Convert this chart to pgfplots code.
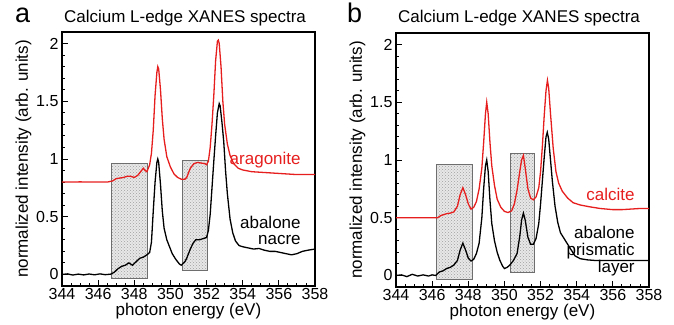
\documentclass[border=0pt]{standalone}
\usepackage{fontspec}
\setmainfont{Liberation Sans}
\usepackage{pgfplots}
\pgfplotsset{compat=1.18}
\usetikzlibrary{patterns}

\definecolor{specred}{RGB}{230,30,30}
\definecolor{boxgray}{RGB}{110,110,110}

\pgfplotsset{xanes/.style={
  scale only axis, width=253pt, height=254pt,
  xmin=344, xmax=358, ymin=-0.1, ymax=2.1,
  xtick={344,346,...,358}, ytick={0,0.5,1,1.5,2},
  minor x tick num=3, minor y tick num=4,
  tick pos=left, tick align=inside,
  major tick length=6pt, minor tick length=3pt,
  axis line style={line width=1.3pt},
  every tick/.style={black, line width=0.9pt},
  /pgf/number format/assume math mode=true,
  tick label style={font=\fontsize{16}{18}\selectfont},
  xticklabel style={yshift=1pt},
  label style={font=\fontsize{17}{20}\selectfont},
  xlabel={photon energy (eV)},
  ylabel={normalized intensity (arb. units)},
  xlabel style={yshift=4pt},
  ylabel style={yshift=-2pt},
  clip=false,
}}
\tikzset{stip/.style={draw=boxgray, line width=0.8pt, fill=gray!18, postaction={pattern=crosshatch dots, pattern color=gray!75}}}

\begin{document}
\begin{tikzpicture}
\path[use as bounding box] (0,0) rectangle (674pt,324pt);

\begin{axis}[xanes, at={(62pt,38pt)}, anchor=south west]
\addplot[stip] coordinates {(346.73,-0.03) (348.75,-0.03) (348.75,0.96) (346.73,0.96)} -- cycle;
\addplot[stip] coordinates {(350.67,0.035) (352.05,0.035) (352.05,0.99) (350.67,0.99)} -- cycle;
% aragonite
\addplot[specred, line width=1.3pt] coordinates {
(344,0.80) (344.5,0.80) (345,0.802) (345.5,0.80) (346,0.801) (346.5,0.80) (346.8,0.81) (347.0,0.83) (347.2,0.835) (347.4,0.84) (347.6,0.85) (347.8,0.85) (348.0,0.84) (348.2,0.86) (348.4,0.90) (348.5,0.92) (348.6,0.90) (348.7,0.89) (348.85,0.95) (348.95,1.05) (349.05,1.25) (349.15,1.55) (349.25,1.75) (349.3,1.80) (349.35,1.78) (349.45,1.60) (349.55,1.35) (349.65,1.17) (349.8,1.02) (350.0,0.93) (350.2,0.87) (350.4,0.84) (350.6,0.825) (350.8,0.825) (350.9,0.84) (351.0,0.88) (351.1,0.92) (351.3,0.96) (351.5,0.97) (351.7,0.965) (351.9,0.96) (352.0,0.95) (352.1,0.98) (352.2,1.10) (352.3,1.30) (352.4,1.55) (352.5,1.85) (352.6,2.02) (352.65,2.03) (352.7,2.00) (352.8,1.80) (352.9,1.50) (353.0,1.30) (353.15,1.13) (353.3,1.03) (353.5,0.96) (353.75,0.92) (354.0,0.905) (354.5,0.89) (355.0,0.885) (355.5,0.88) (356.0,0.875) (356.5,0.87) (357.0,0.865) (357.5,0.865) (358.0,0.865)};
% nacre
\addplot[black, line width=1.3pt] coordinates {
(344,0.0) (344.3,0.005) (344.6,-0.005) (344.9,0.003) (345.2,-0.004) (345.5,0.004) (345.8,-0.003) (346.1,0.005) (346.4,-0.002) (346.7,0.003) (346.9,0.02) (347.1,0.05) (347.3,0.07) (347.5,0.08) (347.7,0.10) (347.9,0.08) (348.1,0.11) (348.3,0.14) (348.5,0.15) (348.7,0.17) (348.85,0.19) (348.95,0.28) (349.05,0.55) (349.15,0.80) (349.25,0.97) (349.3,1.00) (349.35,0.97) (349.45,0.78) (349.55,0.55) (349.65,0.40) (349.8,0.30) (349.95,0.24) (350.1,0.18) (350.3,0.13) (350.5,0.09) (350.6,0.08) (350.7,0.095) (350.8,0.11) (350.9,0.14) (351.0,0.18) (351.1,0.22) (351.25,0.27) (351.4,0.30) (351.6,0.30) (351.8,0.31) (352.0,0.32) (352.1,0.38) (352.2,0.52) (352.3,0.75) (352.4,0.98) (352.5,1.20) (352.6,1.40) (352.7,1.48) (352.75,1.46) (352.85,1.32) (352.95,1.15) (353.05,0.90) (353.15,0.70) (353.3,0.48) (353.45,0.36) (353.6,0.29) (353.8,0.25) (354.0,0.24) (354.3,0.23) (354.6,0.22) (354.9,0.225) (355.2,0.21) (355.5,0.20) (355.8,0.20) (356.1,0.19) (356.4,0.18) (356.7,0.17) (357.0,0.18) (357.3,0.20) (357.6,0.21) (358.0,0.22)};
\node[anchor=base east, text=specred, font=\fontsize{17}{20}\selectfont] at (axis cs:357.4,0.95) {aragonite};
\node[anchor=base east, font=\fontsize{17}{20}\selectfont] at (axis cs:357.4,0.40) {abalone};
\node[anchor=base east, font=\fontsize{17}{20}\selectfont] at (axis cs:357.4,0.26) {nacre};
\end{axis}

\begin{axis}[xanes, at={(396pt,37pt)}, anchor=south west]
\addplot[stip] coordinates {(346.25,-0.03) (348.24,-0.03) (348.24,0.96) (346.25,0.96)} -- cycle;
\addplot[stip] coordinates {(350.32,0.03) (351.68,0.03) (351.68,1.06) (350.32,1.06)} -- cycle;
% calcite
\addplot[specred, line width=1.3pt] coordinates {
(344,0.50) (345,0.50) (346,0.50) (346.3,0.50) (346.5,0.52) (346.8,0.535) (347.0,0.54) (347.2,0.55) (347.4,0.60) (347.55,0.70) (347.7,0.76) (347.85,0.70) (348.0,0.62) (348.15,0.575) (348.3,0.59) (348.45,0.64) (348.6,0.75) (348.75,0.93) (348.85,1.15) (348.95,1.40) (349.02,1.50) (349.1,1.40) (349.2,1.15) (349.3,0.95) (349.45,0.78) (349.6,0.66) (349.8,0.59) (350.0,0.555) (350.2,0.545) (350.4,0.56) (350.55,0.62) (350.7,0.74) (350.85,0.90) (350.95,1.00) (351.05,1.04) (351.15,0.93) (351.3,0.75) (351.45,0.67) (351.6,0.655) (351.75,0.68) (351.9,0.76) (352.0,0.90) (352.1,1.12) (352.2,1.38) (352.3,1.60) (352.38,1.69) (352.45,1.62) (352.55,1.40) (352.7,1.10) (352.85,0.90) (353.0,0.80) (353.2,0.73) (353.5,0.67) (353.8,0.63) (354.2,0.61) (354.7,0.595) (355.3,0.58) (356.0,0.57) (356.5,0.57) (357.0,0.575) (357.5,0.58) (358.0,0.58)};
% prismatic
\addplot[black, line width=1.3pt] coordinates {
(344,0.0) (344.3,0.005) (344.6,-0.01) (344.9,0.01) (345.2,-0.005) (345.5,0.005) (345.8,-0.005) (346.0,0.005) (346.2,0.0) (346.4,0.03) (346.6,0.04) (346.8,0.06) (347.0,0.07) (347.2,0.09) (347.4,0.13) (347.55,0.22) (347.7,0.28) (347.85,0.22) (348.0,0.15) (348.15,0.125) (348.3,0.14) (348.45,0.19) (348.6,0.28) (348.75,0.50) (348.85,0.75) (348.95,0.95) (349.02,1.00) (349.1,0.90) (349.2,0.65) (349.3,0.45) (349.45,0.30) (349.6,0.20) (349.75,0.13) (349.9,0.08) (350.0,0.06) (350.15,0.07) (350.3,0.09) (350.5,0.13) (350.7,0.19) (350.85,0.34) (350.95,0.48) (351.05,0.54) (351.15,0.48) (351.3,0.33) (351.45,0.27) (351.6,0.27) (351.75,0.32) (351.9,0.45) (352.0,0.62) (352.1,0.82) (352.2,1.02) (352.3,1.20) (352.37,1.24) (352.45,1.18) (352.55,1.00) (352.65,0.82) (352.8,0.60) (352.95,0.46) (353.1,0.37) (353.3,0.32) (353.5,0.27) (353.7,0.22) (353.9,0.17) (354.2,0.145) (354.6,0.135) (355.0,0.13) (356.0,0.13) (357.0,0.13) (358.0,0.13)};
\node[anchor=base east, text=specred, font=\fontsize{17}{20}\selectfont] at (axis cs:357.4,0.65) {calcite};
\node[anchor=base east, font=\fontsize{17}{20}\selectfont] at (axis cs:357.4,0.32) {abalone};
\node[anchor=base east, font=\fontsize{17}{20}\selectfont] at (axis cs:357.4,0.17) {prismatic};
\node[anchor=base east, font=\fontsize{17}{20}\selectfont] at (axis cs:357.4,0.026) {layer};
\end{axis}

\node[anchor=base, font=\fontsize{17}{20}\selectfont] at (185pt,301pt) {Calcium L-edge XANES spectra};
\node[anchor=base, font=\fontsize{17}{20}\selectfont] at (519pt,301pt) {Calcium L-edge XANES spectra};
\node[anchor=base west, font=\fontsize{27}{30}\selectfont, inner sep=0pt] at (15pt,301pt) {a};
\node[anchor=base west, font=\fontsize{27}{30}\selectfont, inner sep=0pt] at (347pt,301pt) {b};
\end{tikzpicture}
\end{document}
